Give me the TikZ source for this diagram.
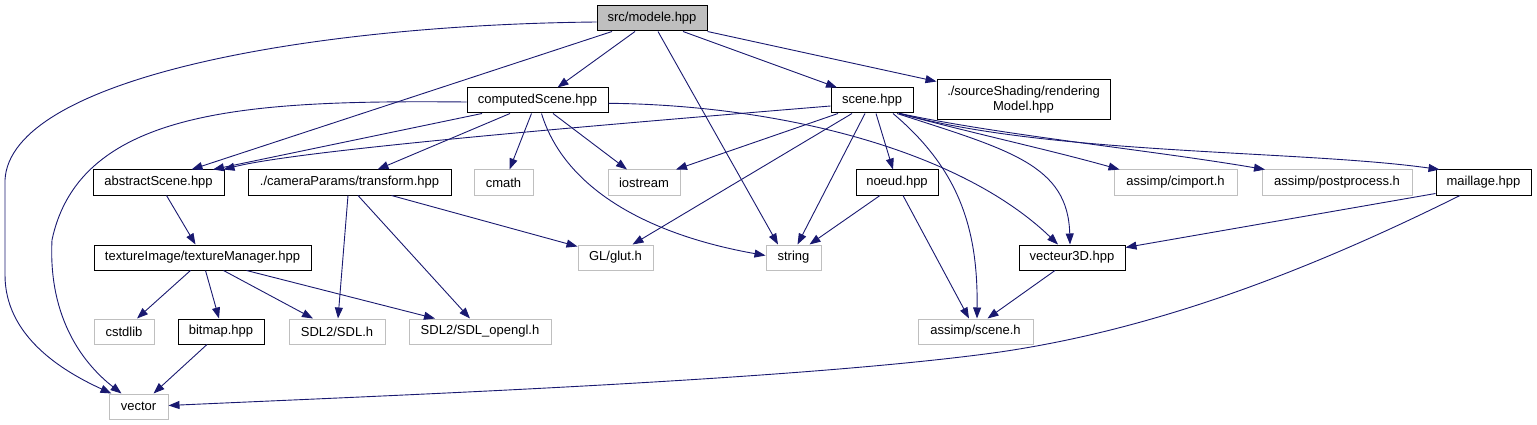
\documentclass[tikz,border=0pt]{standalone}
\usepackage{fontspec}
\setmainfont{Liberation Sans}
\usetikzlibrary{arrows.meta}
\definecolor{edgeblue}{HTML}{191970}
\definecolor{greyfill}{HTML}{BFBFBF}
\definecolor{greyline}{HTML}{BFBFBF}
\tikzset{
  box/.style={draw=black, line width=1pt, fill=white, minimum height=25pt, inner sep=0pt, font=\fontsize{13}{15}\selectfont},
  ext/.style={box, draw=greyline},
  edge/.style={draw=edgeblue, line width=0.9pt, -{Triangle[length=11pt,width=8pt]}},
}
\begin{document}
\begin{tikzpicture}[x=1pt,y=-1pt]
\useasboundingbox (0,0) rectangle (1537,425);
% rank 0
\node[box, fill=greyfill, minimum width=110pt] (modele) at (652,18.5) {src/modele.hpp};
% rank 1
\node[box, minimum width=141pt] (computedScene) at (537.5,100.5) {computedScene.hpp};
\node[box, minimum width=82pt] (scene) at (872,100.5) {scene.hpp};
\node[box, minimum width=173pt, minimum height=40pt, align=center] (rendering) at (1023.5,100) {./sourceShading/rendering\\Model.hpp};
% rank 2
\node[box, minimum width=131pt] (abstractScene) at (158.5,182.5) {abstractScene.hpp};
\node[box, minimum width=203pt] (transform) at (349.5,182.5) {./cameraParams/transform.hpp};
\node[ext, minimum width=59pt] (cmath) at (503.5,182.5) {cmath};
\node[ext, minimum width=72pt] (iostream) at (644,182.5) {iostream};
\node[box, minimum width=82pt] (noeud) at (897,182.5) {noeud.hpp};
\node[ext, minimum width=123pt] (cimport) at (1175.5,182.5) {assimp/cimport.h};
\node[ext, minimum width=150pt] (postprocess) at (1337,182.5) {assimp/postprocess.h};
\node[box, minimum width=95pt] (maillage) at (1483.5,182.5) {maillage.hpp};
% rank 3
\node[box, minimum width=217pt] (textureManager) at (202.5,257.5) {textureImage/textureManager.hpp};
\node[ext, minimum width=75pt] (glut) at (615.5,257.5) {GL/glut.h};
\node[ext, minimum width=55pt] (string) at (793.5,257.5) {string};
\node[box, minimum width=106pt] (vecteur3D) at (1072,257.5) {vecteur3D.hpp};
% rank 4
\node[ext, minimum width=60pt] (cstdlib) at (124,331.5) {cstdlib};
\node[box, minimum width=86pt] (bitmap) at (221,331.5) {bitmap.hpp};
\node[ext, minimum width=96pt] (SDL) at (337,331.5) {SDL2/SDL.h};
\node[ext, minimum width=142pt] (SDLgl) at (480,331.5) {SDL2/SDL\_opengl.h};
\node[ext, minimum width=115pt] (assimpScene) at (975.5,331.5) {assimp/scene.h};
% rank 5
\node[ext, minimum width=59pt] (vector) at (138.5,406.5) {vector};

% modele
\draw[edge] ([yshift=-3.5pt]modele.west) .. controls (300,25) and (10,80) .. (5,180) -- (5,275) .. controls (5,335) and (60,370) .. ([xshift=-27pt]vector.north);
\draw[edge] ([xshift=-40pt]modele.south) -- ([xshift=33pt]abstractScene.north);
\draw[edge] ([xshift=-17pt]modele.south) -- ([xshift=20pt]computedScene.north);
\draw[edge] ([xshift=6pt]modele.south) -- ([xshift=-15.5pt]string.north);
\draw[edge] ([xshift=31pt]modele.south) -- ([xshift=-35pt]scene.north);
\draw[edge] (modele.south east) -- ([yshift=-2pt]rendering.north west);
% computedScene
\draw[edge] ([yshift=-1.5pt]computedScene.west) .. controls (250,100) and (80,108) .. (52,240) .. controls (48,320) and (85,365) .. ([xshift=-17pt]vector.north);
\draw[edge] ([xshift=-55.5pt]computedScene.south) -- ([xshift=54.5pt]abstractScene.north);
\draw[edge] ([xshift=-27.5pt]computedScene.south) -- ([xshift=28pt]transform.north);
\draw[edge] ([xshift=-6pt]computedScene.south) -- ([xshift=6pt]cmath.north);
\draw[edge] ([xshift=15.5pt]computedScene.south) -- ([xshift=-17pt]iostream.north);
\draw[edge] ([xshift=4pt]computedScene.south) .. controls (565,190) and (650,235) .. ([yshift=2pt]string.west);
\draw[edge] ([yshift=-2.8pt]computedScene.east) .. controls (780,105) and (960,150) .. ([xshift=-14pt]vecteur3D.north);
% scene
\draw[edge] ([yshift=-5.5pt]scene.west) .. controls (600,125) and (300,150) .. ([xshift=-1pt]abstractScene.north east);
\draw[edge] ([xshift=-34pt]scene.south) -- ([xshift=32pt]iostream.north);
\draw[edge] ([xshift=-20pt]scene.south) -- ([xshift=17pt]glut.north);
\draw[edge] ([xshift=-7pt]scene.south) -- ([xshift=4pt]string.north);
\draw[edge] ([xshift=4pt]scene.south) -- ([xshift=-4pt]noeud.north);
\draw[edge] ([xshift=21pt]scene.south) .. controls (960,170) and (978,230) .. ([xshift=1.5pt]assimpScene.north);
\draw[edge] ([xshift=25pt]scene.south) .. controls (1010,150) and (1068,165) .. ([xshift=-2pt]vecteur3D.north);
\draw[edge] ([xshift=27pt]scene.south) .. controls (980,135) and (1050,150) .. ([xshift=-56pt]cimport.north);
\draw[edge] ([xshift=28pt]scene.south) .. controls (1000,135) and (1150,150) .. ([xshift=-72pt]postprocess.north);
\draw[edge] ([xshift=28pt]scene.south) .. controls (1050,155) and (1300,150) .. ([xshift=-44pt]maillage.north);
% noeud
\draw[edge] ([xshift=-17pt]noeud.south) -- ([xshift=16pt]string.north);
\draw[edge] ([xshift=6pt]noeud.south) -- ([xshift=-6.5pt]assimpScene.north);
% vecteur3D
\draw[edge] ([xshift=-17pt]vecteur3D.south) -- ([xshift=12pt]assimpScene.north);
% maillage
\draw[edge] ([yshift=2pt]maillage.south west) -- ([yshift=10pt]vecteur3D.east);
\draw[edge] ([xshift=-23.5pt]maillage.south) .. controls (1300,275) and (1150,330) .. (1000,352) .. controls (800,380) and (400,395) .. ([yshift=1pt]vector.east);
% transform
\draw[edge] ([xshift=-1.5pt]transform.south) -- ([xshift=1pt]SDL.north);
\draw[edge] ([xshift=8.5pt]transform.south) -- ([xshift=-10pt]SDLgl.north);
\draw[edge] ([xshift=42pt]transform.south) -- ([yshift=-2pt]glut.north west);
% abstractScene
\draw[edge] ([xshift=8pt]abstractScene.south) -- ([xshift=-7pt]textureManager.north);
% textureManager
\draw[edge] ([xshift=-12pt]textureManager.south) -- ([xshift=13pt]cstdlib.north);
\draw[edge] ([xshift=3pt]textureManager.south) -- ([xshift=-2pt]bitmap.north);
\draw[edge] ([xshift=21pt]textureManager.south) -- ([xshift=-24pt]SDL.north);
\draw[edge] ([xshift=44pt]textureManager.south) -- ([xshift=-45pt]SDLgl.north);
% bitmap
\draw[edge] ([xshift=-14pt]bitmap.south) -- ([xshift=15pt]vector.north);
\end{tikzpicture}
\end{document}
